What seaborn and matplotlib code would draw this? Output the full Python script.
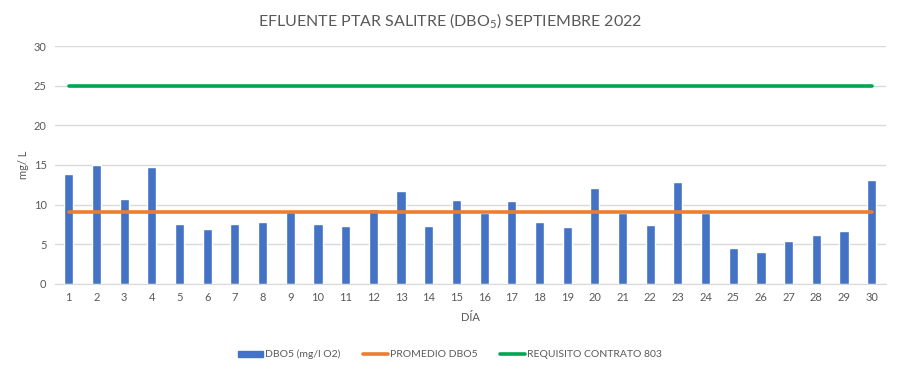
import numpy as np
import pandas as pd
import matplotlib
matplotlib.use('Agg')
import matplotlib.pyplot as plt
import seaborn as sns
from matplotlib.lines import Line2D
from matplotlib.patches import Patch

# data
days = list(range(1, 31))
dbo5 = [13.9, 15.0, 10.65, 14.7, 7.5, 6.9, 7.5, 7.8, 9.05, 7.5,
        7.25, 9.5, 11.65, 7.25, 10.55, 9.0, 10.4, 7.8, 7.15, 12.15,
        9.0, 7.4, 12.8, 8.95, 4.5, 4.0, 5.4, 6.15, 6.65, 13.05]
promedio = 9.1
requisito = 25

df = pd.DataFrame({'dia': days, 'dbo5': dbo5})
df['promedio'] = promedio
df['requisito'] = requisito
df['pos'] = np.arange(len(days))

sns.set_style('white')
plt.rcParams['font.family'] = ['Lato', 'DejaVu Sans']
plt.rcParams['mathtext.fontset'] = 'custom'
plt.rcParams['mathtext.rm'] = 'Lato'

gray = '#595959'
blue = '#4472C4'
orange = '#ED7D31'
green = '#00A651'

fig = plt.figure(figsize=(9, 3.74), dpi=100)
ax = fig.add_axes([0.061, 0.241, 0.923, 0.636])

sns.barplot(data=df, x='dia', y='dbo5', color=blue, width=0.33, saturation=1, ax=ax)
sns.lineplot(data=df, x='pos', y='promedio', color=orange, linewidth=2.6, ax=ax)
sns.lineplot(data=df, x='pos', y='requisito', color=green, linewidth=2.6, ax=ax)

ax.set_ylim(0, 30)
ax.set_xlim(-0.5, len(days) - 0.5)
ax.set_yticks(range(0, 31, 5))
ax.yaxis.grid(True, color='#D9D9D9', linewidth=1)
ax.set_axisbelow(True)
for s in ['top', 'right', 'left']:
    ax.spines[s].set_visible(False)
ax.spines['bottom'].set_color('#D9D9D9')
ax.tick_params(axis='both', length=0, labelsize=8, colors=gray, pad=6)

ax.set_xlabel('DÍA', fontsize=8, color=gray, labelpad=6)
ax.set_ylabel('mg/ L', fontsize=8, color=gray, labelpad=3)
fig.suptitle(r'EFLUENTE PTAR SALITRE (DBO$_\mathregular{5}$) SEPTIEMBRE 2022',
             fontsize=11.5, color=gray, y=0.97)

handles = [Patch(color=blue),
           Line2D([0], [0], color=orange, linewidth=2.6),
           Line2D([0], [0], color=green, linewidth=2.6)]
labels = ['DBO5 (mg/l O2)', 'PROMEDIO DBO5', 'REQUISITO CONTRATO 803']
fig.legend(handles, labels, loc='center', bbox_to_anchor=(0.5, 0.052), ncol=3,
           frameon=False, fontsize=7.5, labelcolor=gray, handlelength=2.4,
           handleheight=0.5, handletextpad=0.25, columnspacing=2.1)

fig.savefig('out.png', dpi=100)
